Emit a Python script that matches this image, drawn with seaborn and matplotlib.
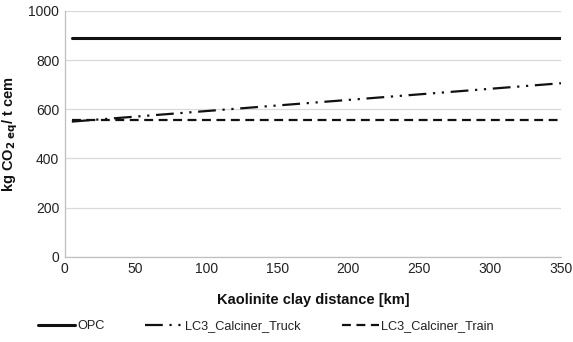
import matplotlib
matplotlib.use("Agg")
import matplotlib.pyplot as plt
import seaborn as sns
import pandas as pd

distance = [5, 350]
opc = [890, 890]
truck = [550, 706]
train = [557, 557]

sns.set_theme(style="whitegrid")
plt.rcParams['font.family'] = ['Liberation Sans', 'DejaVu Sans']

df = pd.DataFrame({
    "distance": distance * 3,
    "value": opc + truck + train,
    "series": ["OPC"] * 2 + ["LC3_Calciner_Truck"] * 2 + ["LC3_Calciner_Train"] * 2,
})

fig = plt.figure(figsize=(5.73, 3.42), dpi=100)
ax = fig.add_axes([0.113, 0.249, 0.866, 0.719])

styles = {
    "OPC": dict(ls="-", lw=2.2),
    "LC3_Calciner_Truck": dict(ls=(0, (8, 3, 1, 3, 1, 3)), lw=1.6),
    "LC3_Calciner_Train": dict(ls=(0, (4, 2.5)), lw=1.6),
}
for name in ["OPC", "LC3_Calciner_Truck", "LC3_Calciner_Train"]:
    sub = df[df.series == name]
    sns.lineplot(data=sub, x="distance", y="value", ax=ax, color="#111111",
                 label=name, linestyle=styles[name]["ls"], lw=styles[name]["lw"])

ax.set_xlim(0, 350)
ax.set_ylim(0, 1000)
ax.set_xticks(range(0, 351, 50))
ax.set_yticks(range(0, 1001, 200))
ax.tick_params(axis="both", labelsize=10, colors="#222222", length=0, pad=4)
ax.grid(axis="y", color="#d9d9d9", lw=0.9)
ax.grid(axis="x", visible=False)
for s in ["top", "right"]:
    ax.spines[s].set_visible(False)
for s in ["left", "bottom"]:
    ax.spines[s].set_visible(True)
    ax.spines[s].set_color("#bfbfbf")
    ax.spines[s].set_linewidth(0.9)

ax.set_xlabel("Kaolinite clay distance [km]", fontsize=10.5, fontweight="bold", color="#111111", labelpad=12)
ax.set_ylabel(r"kg CO$_{\mathbf{2\ eq}}$/ t cem", fontsize=10.5, fontweight="bold", color="#111111", labelpad=6)

leg = ax.legend(loc="upper center", bbox_to_anchor=(0.405, -0.21), ncol=3, frameon=False,
                fontsize=9.2, handlelength=2.9, handletextpad=0.2, columnspacing=3.2)
for t in leg.get_texts():
    t.set_color("#222222")

fig.savefig("out.png", dpi=100)
